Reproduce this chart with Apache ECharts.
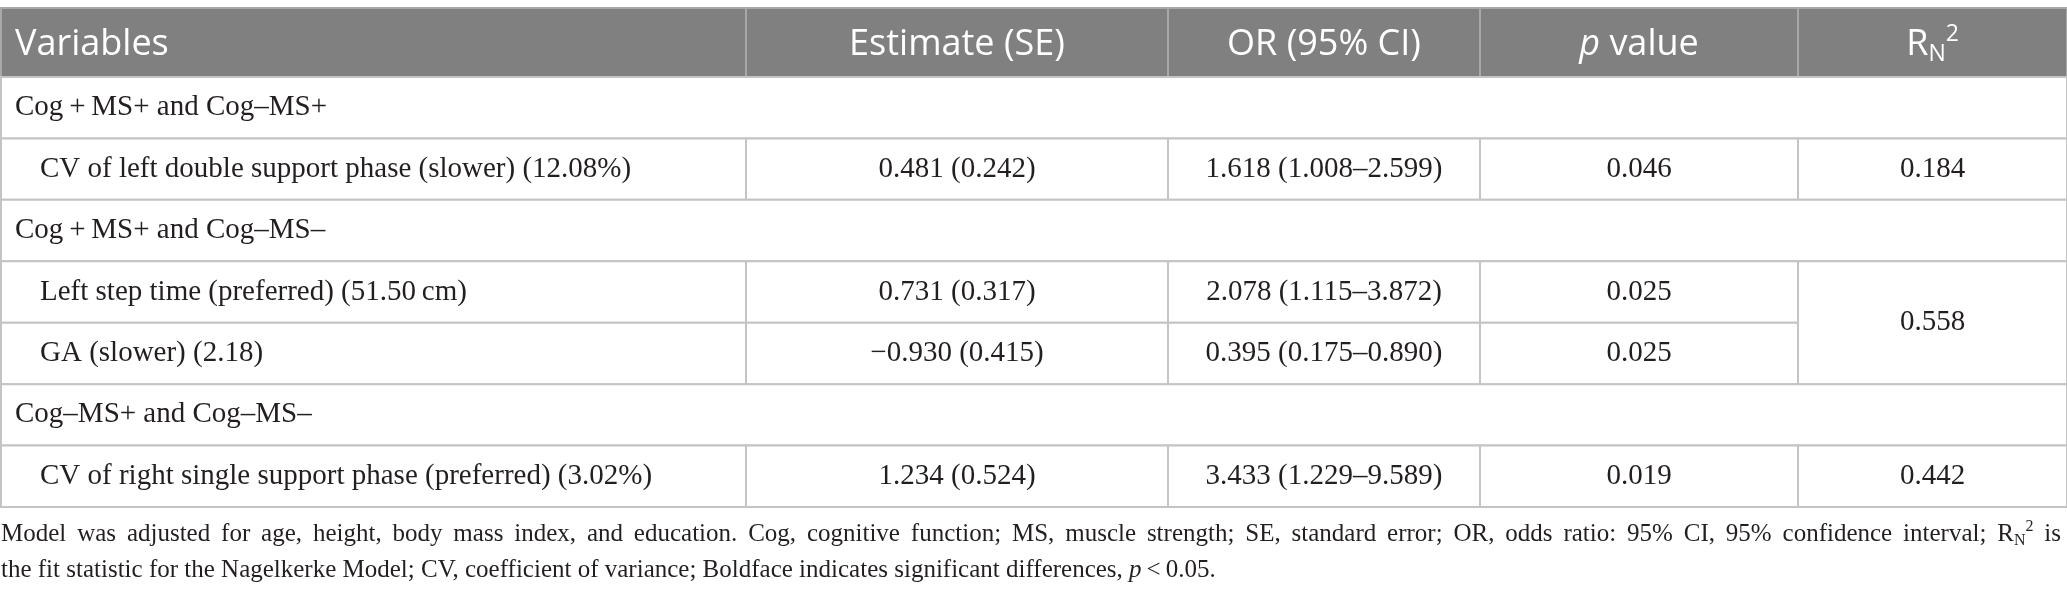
<!DOCTYPE html>
<html>
<head>
<meta charset="utf-8">
<script src="https://cdn.jsdelivr.net/npm/echarts@6/dist/echarts.min.js"></script>
<style>
html, body { margin: 0; padding: 0; background: #fff; }
#main { width: 2067px; height: 601px; }
</style>
</head>
<body>
<div id="main"></div>
<script>
// table content
var headers = ['Variables', 'Estimate (SE)', 'OR (95% CI)', '{i|p} value', '{r|R}{sub|N}{sup|2}'];
var groups = ['Cog\u2009+\u2009MS+ and Cog\u2013MS+', 'Cog\u2009+\u2009MS+ and Cog\u2013MS\u2013', 'Cog\u2013MS+ and Cog\u2013MS\u2013'];
var groupOf = [0, 1, 1, 2];
var variables = [
    'CV of left double support phase (slower) (12.08%)',
    'Left step time (preferred) (51.50\u2009cm)',
    'GA (slower) (2.18)',
    'CV of right single support phase (preferred) (3.02%)'
];
var estimates = ['0.481 (0.242)', '0.731 (0.317)', '\u22120.930 (0.415)', '1.234 (0.524)'];
var oddsRatios = ['1.618 (1.008\u20132.599)', '2.078 (1.115\u20133.872)', '0.395 (0.175\u20130.890)', '3.433 (1.229\u20139.589)'];
var pValues = ['0.046', '0.025', '0.025', '0.019'];
var rn2 = ['0.184', '0.558', '0.442'];   // one per group

var noteLine1 = 'Model was adjusted for age, height, body mass index, and education. Cog, cognitive function; MS, muscle strength; SE, standard error; OR, odds ratio: 95% CI, 95% confidence interval;';
var noteLine1End = 'is';
var noteLine2 = 'the fit statistic for the Nagelkerke Model; CV, coefficient of variance; Boldface indicates significant differences, {i|p}\u2009<\u20090.05.';

// layout
var colWidths = [745, 422, 312, 318, 269];
var colStart = [0];
for (var i = 0; i < colWidths.length; i++) colStart.push(colStart[i] + colWidths[i]);
var totalW = colStart[colWidths.length];

var SERIF = '"Liberation Serif", "DejaVu Serif", serif';
var SANS = '"Open Sans", "Noto Sans", sans-serif';
var INK = '#231f20';
var NOTE_FS = 25;

// build cells
var headCells = headers.map(function (h, c) {
    return { col: c, colspan: 1, row: 0, rowspan: 1, text: h, align: c === 0 ? 'left' : 'center', indent: 14 };
});
var bodyCells = [];
var row = 0;
groups.forEach(function (g, gi) {
    bodyCells.push({ col: 0, colspan: 5, row: row, rowspan: 1, text: g, align: 'left', indent: 14 });
    row++;
    var members = [];
    groupOf.forEach(function (v, k) { if (v === gi) members.push(k); });
    members.forEach(function (k, m) {
        bodyCells.push({ col: 0, colspan: 1, row: row, rowspan: 1, text: variables[k], align: 'left', indent: 39 });
        bodyCells.push({ col: 1, colspan: 1, row: row, rowspan: 1, text: estimates[k], align: 'center' });
        bodyCells.push({ col: 2, colspan: 1, row: row, rowspan: 1, text: oddsRatios[k], align: 'center' });
        bodyCells.push({ col: 3, colspan: 1, row: row, rowspan: 1, text: pValues[k], align: 'center' });
        if (m === 0) bodyCells.push({ col: 4, colspan: 1, row: row, rowspan: members.length, text: rn2[gi], align: 'center' });
        row++;
    });
});
var rowCount = row;
var rowNames = [];
for (var r = 0; r < rowCount; r++) rowNames.push('r' + r);

function cellRenderer(cells, isHeader) {
    return function (params, api) {
        var c = cells[params.dataIndex];
        var band = api.size([0, 1])[1];
        var p0 = api.coord([colStart[c.col], c.row]);
        var p1 = api.coord([colStart[c.col + c.colspan], c.row]);
        var top = p0[1] - band / 2;
        var h = band * c.rowspan;
        var tx = c.align === 'left' ? p0[0] + c.indent : (p0[0] + p1[0]) / 2;
        var fs = isHeader ? 36 : 29;
        var small = isHeader ? 23 : 18;
        var fam = isHeader ? SANS : SERIF;
        var col = isHeader ? '#ffffff' : INK;
        return {
            type: 'group',
            children: [{
                type: 'rect',
                shape: { x: p0[0], y: top, width: p1[0] - p0[0], height: h },
                style: { fill: isHeader ? '#7f807f' : '#ffffff', stroke: isHeader ? '#a8a8a8' : '#c4c4c4', lineWidth: 2 }
            }, {
                type: 'text',
                style: {
                    text: c.text, x: tx, y: top + h / 2 + (isHeader ? 2 : 0), align: c.align, verticalAlign: 'middle',
                    fill: col, fontSize: fs, fontFamily: fam, lineHeight: 46,
                    rich: {
                        i: { fontSize: fs, fontFamily: fam, fontStyle: 'italic', fill: col, lineHeight: 46 },
                        r: { fontSize: fs, fontFamily: fam, fill: col, lineHeight: 46 },
                        sub: { fontSize: small, fontFamily: fam, fill: col, lineHeight: 26, padding: [20, 0, 0, 0], verticalAlign: 'middle' },
                        sup: { fontSize: small, fontFamily: fam, fill: col, lineHeight: 26, padding: [0, 0, 20, 0], verticalAlign: 'middle' }
                    }
                }
            }]
        };
    };
}

// justify the first footnote line like the printed one
var ctx = document.createElement('canvas').getContext('2d');
function textW(s, size) { ctx.font = size + 'px ' + SERIF; return ctx.measureText(s).width; }
var words = noteLine1.split(' ');
var wordsW = 0;
words.forEach(function (w) { wordsW += textW(w, NOTE_FS); });
wordsW += textW('R', NOTE_FS) + textW('N', 16) + textW('2', 16) + textW(noteLine1End, NOTE_FS);
var gaps = words.length + 1;
var gapW = (2060 - wordsW) / gaps;
var line1 = words.join('{g| }') + '{g| }R{sub|N}{sup|2}{g| }' + noteLine1End;

var noteRich = {
    g: { width: gapW, fontSize: NOTE_FS, fontFamily: SERIF, lineHeight: 30 },
    i: { fontSize: NOTE_FS, fontFamily: SERIF, fontStyle: 'italic', fill: INK, lineHeight: 30 },
    sub: { fontSize: 16, fontFamily: SERIF, fill: INK, lineHeight: 18, verticalAlign: 'bottom' },
    sup: { fontSize: 16, fontFamily: SERIF, fill: INK, lineHeight: 22, verticalAlign: 'top' }
};

var myChart = echarts.init(document.getElementById('main'), null, { renderer: 'canvas' });

var option = {
    backgroundColor: '#ffffff',
    animation: false,
    grid: [
        { left: 1, width: totalW, top: 8, height: 69 },
        { left: 1, width: totalW, top: 77, height: 430 }
    ],
    xAxis: [
        { gridIndex: 0, type: 'value', min: 0, max: totalW, show: false },
        { gridIndex: 1, type: 'value', min: 0, max: totalW, show: false }
    ],
    yAxis: [
        { gridIndex: 0, type: 'category', data: ['head'], inverse: true, show: false },
        { gridIndex: 1, type: 'category', data: rowNames, inverse: true, show: false }
    ],
    series: [{
        type: 'custom',
        xAxisIndex: 0, yAxisIndex: 0,
        renderItem: cellRenderer(headCells, true),
        data: headCells.map(function (c) { return [colStart[c.col], c.row]; })
    }, {
        type: 'custom',
        xAxisIndex: 1, yAxisIndex: 1,
        renderItem: cellRenderer(bodyCells, false),
        data: bodyCells.map(function (c) { return [colStart[c.col], c.row]; })
    }],
    graphic: [{
        type: 'text', left: 1, top: 519,
        style: { text: line1, fontSize: NOTE_FS, fontFamily: SERIF, fill: INK, lineHeight: 30, rich: noteRich }
    }, {
        type: 'text', left: 1, top: 555,
        style: { text: noteLine2, fontSize: NOTE_FS, fontFamily: SERIF, fill: INK, lineHeight: 30, rich: noteRich }
    }]
};

myChart.setOption(option);
window.addEventListener('resize', myChart.resize);
</script>
</body>
</html>
